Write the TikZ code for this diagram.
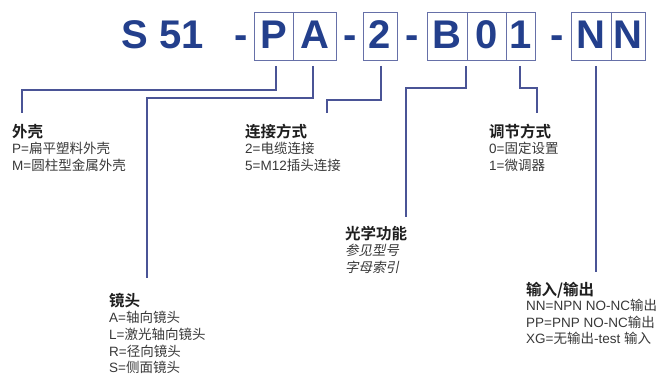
\documentclass[tikz,border=0pt]{standalone}
\usepackage{fontspec}
\setmainfont{Liberation Sans}
\newfontfamily\cjk{Noto Sans CJK SC}
\newfontfamily\cjkb{Noto Sans CJK SC Bold}
\newfontfamily\cjki[FakeSlant=0.2]{Noto Sans CJK SC}
\newcommand\zh[1]{{\cjk #1}}
\definecolor{codec}{HTML}{233F8C}
\definecolor{boxc}{HTML}{6670A8}
\definecolor{linec}{HTML}{4A5496}
\definecolor{headc}{HTML}{1E1E1E}
\definecolor{bodyc}{HTML}{383838}
\tikzset{
  codetxt/.style={font=\bfseries\fontsize{40}{40}\selectfont, text=codec, inner sep=0pt},
  cell/.style={codetxt, draw=boxc, line width=0.9pt, minimum height=48, text height=26, text depth=0pt},
  dashtxt/.style={codetxt, anchor=base},
  head/.style={font=\cjkb\fontsize{15.5}{16}\selectfont, text=headc, anchor=base west, inner sep=0pt},
  body/.style={font=\fontsize{13.5}{14}\selectfont, text=bodyc, anchor=base west, inner sep=0pt},
  bodyit/.style={font=\cjki\fontsize{13.5}{14}\selectfont, text=bodyc, anchor=base west, inner sep=0pt},
  conn/.style={draw=linec, line width=2.4pt}
}
\begin{document}
\begin{tikzpicture}[x=1pt,y=-1pt]
\useasboundingbox (0,0) rectangle (661,374);
% code line
\node[codetxt, anchor=base west] (s51) at (121.5,49) {S 51};
\node[dashtxt] (d1) at (241,49) {-};
\node[cell, minimum width=39] (cP) at (273.5,36) {P};
\node[cell, minimum width=43] (cA) at (314.5,36) {A};
\node[dashtxt] (d2) at (350,49) {-};
\node[cell, minimum width=34] (c2) at (380,36) {2};
\node[dashtxt] (d3) at (412,49) {-};
\node[cell, minimum width=40] (cB) at (447,36) {B};
\node[cell, minimum width=39] (c0) at (486.5,36) {0};
\node[cell, minimum width=29] (c1) at (520.5,36) {1};
\node[dashtxt] (d4) at (557,49) {-};
\node[cell, minimum width=40] (cN1) at (591,36) {N};
\node[cell, minimum width=34] (cN2) at (628,36) {N};
% tick start points
\coordinate (tP) at (276,66);
\coordinate (tA) at (313,66);
\coordinate (t2) at (381,66);
\coordinate (tB) at (466,66);
\coordinate (t1) at (520,66);
\coordinate (tN) at (596,66);
% end points
\coordinate (eP) at (22,113);
\coordinate (eA) at (147,278);
\coordinate (e2) at (327,113);
\coordinate (eB) at (406,217);
\coordinate (e1) at (537,113);
\coordinate (eN) at (596,272);
% connectors
\draw[conn] (tP) -- (276,90) -| (eP);
\draw[conn] (tA) -- (313,98) -| (eA);
\draw[conn] (t2) -- (381,100) -| (e2);
\draw[conn] (tB) -- (466,88) -| (eB);
\draw[conn] (t1) -- (520,88) -| (e1);
\draw[conn] (tN) -- (eN);
% 外壳
\node[head] (hP) at (12,137.5) {外壳};
\node[body] (hP1) at (12,153.5) {P=\zh{扁平塑料外壳}};
\node[body] (hP2) at (12,171) {M=\zh{圆柱型金属外壳}};
% 连接方式
\node[head] (h2) at (245,137.5) {连接方式};
\node[body] (h21) at (245,153.5) {2=\zh{电缆连接}};
\node[body] (h22) at (245,171) {5=M12\zh{插头连接}};
% 调节方式
\node[head] (h1) at (489,137.5) {调节方式};
\node[body] (h11) at (489,153.5) {0=\zh{固定设置}};
\node[body] (h12) at (489,171) {1=\zh{微调器}};
% 光学功能
\node[head] (hB) at (345,239) {光学功能};
\node[bodyit] (hB1) at (345,255.5) {参见型号};
\node[bodyit] (hB2) at (345,272) {字母索引};
% 镜头
\node[head] (hA) at (109,306.5) {镜头};
\node[body] (hA1) at (109,322) {A=\zh{轴向镜头}};
\node[body] (hA2) at (109,339) {L=\zh{激光轴向镜头}};
\node[body] (hA3) at (109,356) {R=\zh{径向镜头}};
\node[body] (hA4) at (109,372) {S=\zh{侧面镜头}};
% 输入/输出
\node[head] (hN) at (526,295.5) {输入/输出};
\node[body] (hN1) at (526,310) {NN=NPN NO-NC\zh{输出}};
\node[body] (hN2) at (526,327) {PP=PNP NO-NC\zh{输出}};
\node[body] (hN3) at (526,343) {XG=\zh{无输出}-test \zh{输入}};
\end{tikzpicture}
\end{document}
